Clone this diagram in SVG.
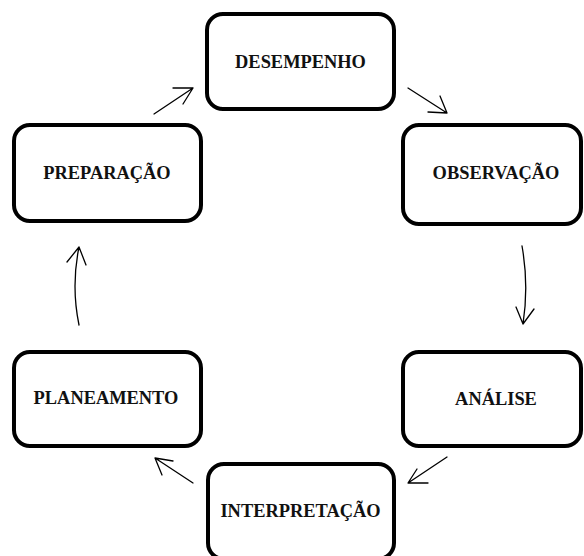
<svg xmlns="http://www.w3.org/2000/svg" width="584" height="556" viewBox="0 0 584 556">
<style>
.box{fill:#fff;stroke:#000;stroke-width:4}
.lbl{font-family:"Liberation Serif","Times New Roman",serif;font-weight:bold;font-size:18.4px;fill:#111;text-anchor:middle}
.c{fill:none;stroke:#000;stroke-width:1.3;stroke-linecap:round;stroke-linejoin:round}
</style>
<rect width="584" height="556" fill="#fff"/>
<g id="desempenho"><rect class="box" x="207" y="14" width="187" height="95" rx="16"/><text class="lbl" x="300.5" y="67.5">DESEMPENHO</text></g>
<g id="preparacao"><rect class="box" x="14" y="125" width="187" height="96" rx="16"/><text class="lbl" x="107" y="179">PREPARAÇÃO</text></g>
<g id="observacao"><rect class="box" x="403" y="125" width="178" height="99" rx="16"/><text class="lbl" x="496" y="179">OBSERVAÇÃO</text></g>
<g id="analise"><rect class="box" x="403" y="352" width="178" height="94" rx="16"/><text class="lbl" x="496" y="405">ANÁLISE</text></g>
<g id="planeamento"><rect class="box" x="14" y="352" width="187" height="94" rx="16"/><text class="lbl" x="106" y="404">PLANEAMENTO</text></g>
<g id="interpretacao"><rect class="box" x="208" y="464" width="186" height="95" rx="16"/><text class="lbl" x="300.5" y="517">INTERPRETAÇÃO</text></g>
<g id="connectors">
<path class="c" d="M154,114 L193,88 M173,88 L193,88 L183,104"/>
<path class="c" d="M408,88 L447,113 M428,112 L447,113 L440,96"/>
<path class="c" d="M522,246 Q529,285 523,324 M516,307 L523,324 L534,309"/>
<path class="c" d="M447,457 L408,483 M417,469 L408,483 L428,483"/>
<path class="c" d="M193,483 L155,458 M173,461 L155,458 L162,475"/>
<path class="c" d="M79,325 Q71,286 79,247 M67,262 L79,247 L86,265"/>
</g>
</svg>
